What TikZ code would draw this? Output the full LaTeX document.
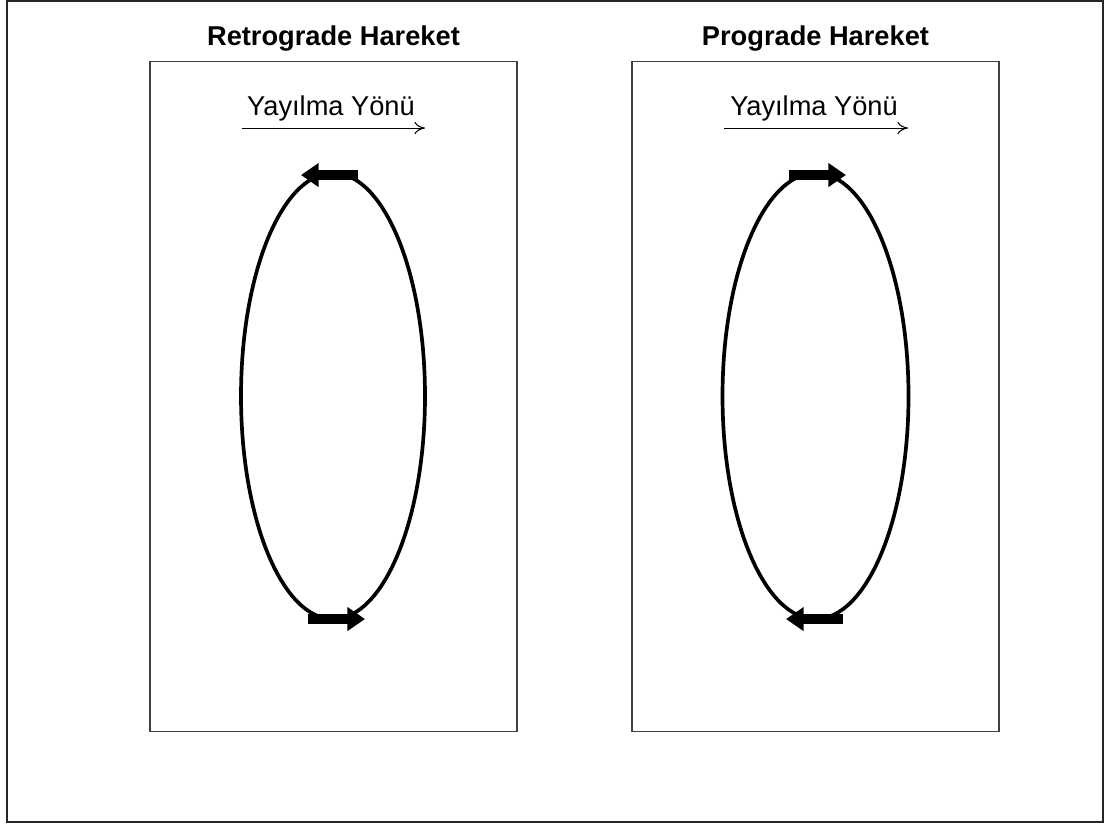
\documentclass[tikz,border=0pt]{standalone}
\usepackage{fontspec}
\setmainfont{Liberation Sans}
\usetikzlibrary{arrows.meta, positioning}

\tikzset{
    panel/.style={draw=black!75, line width=0.6pt},
    title/.style={font=\fontsize{15.5}{18}\selectfont\bfseries},
    dirlabel/.style={font=\fontsize{15.5}{18}\selectfont},
    orbit/.style={line width=2.1pt},
    motion/.style={line width=5.5pt, -{Triangle[length=10pt, width=13pt]}},
}

\begin{document}
\begin{tikzpicture}[x=0.02cm, y=-0.02cm]
    % outer frame
    \draw[line width=1.2pt, black!85] (7,1) rectangle (1103,822);
    \useasboundingbox (0,0) rectangle (1105,824);

    % panels
    \node[panel, minimum width=367*0.02cm, minimum height=670*0.02cm, inner sep=0] (retro) at (333.5,396) {};
    \node[panel, minimum width=367*0.02cm, minimum height=670*0.02cm, inner sep=0] (pro) at (815.5,396) {};

    % titles
    \node[title, above=2pt of retro.north] (retrotitle) {Retrograde Hareket};
    \node[title, above=2pt of pro.north] (protitle) {Prograde Hareket};

    % propagation direction
    \node[dirlabel] (retrodir) at (331,108) {Yayılma Yönü};
    \coordinate (rs) at (242,128);
    \coordinate (re) at (425,128);
    \draw[-{To[length=6pt, width=7pt]}, line width=0.6pt] (rs) -- (re);

    \node[dirlabel] (prodir) at (814,108) {Yayılma Yönü};
    \coordinate (ps) at (724,128);
    \coordinate (pe) at (908,128);
    \draw[-{To[length=6pt, width=7pt]}, line width=0.6pt] (ps) -- (pe);

    % orbits
    \coordinate (rc) at (333,396);
    \coordinate (pc) at (815.5,396);
    \draw[orbit] (rc) ellipse [x radius=92, y radius=223];
    \draw[orbit] (pc) ellipse [x radius=93, y radius=223];

    % particle motion
    \coordinate (rt1) at (358,175);
    \coordinate (rt2) at (301,175);
    \coordinate (rb1) at (308,619);
    \coordinate (rb2) at (365,619);
    \draw[motion] (rt1) -- (rt2);
    \draw[motion] (rb1) -- (rb2);

    \coordinate (pt1) at (789,175);
    \coordinate (pt2) at (846,175);
    \coordinate (pb1) at (843,619);
    \coordinate (pb2) at (786,619);
    \draw[motion] (pt1) -- (pt2);
    \draw[motion] (pb1) -- (pb2);
\end{tikzpicture}
\end{document}
